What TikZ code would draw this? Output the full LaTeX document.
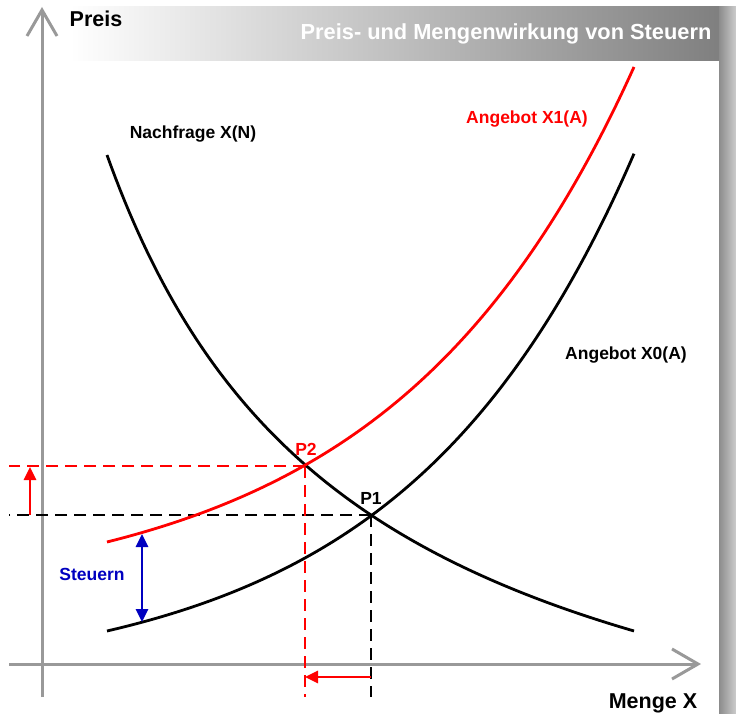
\documentclass[tikz,border=0pt]{standalone}
\usepackage{fontspec}
\setmainfont{Liberation Sans}
\usetikzlibrary{arrows.meta}
\definecolor{axisgray}{RGB}{153,153,153}
\definecolor{taxblue}{RGB}{0,0,192}
\begin{document}
\begin{tikzpicture}[x=1pt,y=-1pt,
  lbl/.style={font=\fontsize{17.5}{20}\selectfont\bfseries, inner sep=0pt},
  axlbl/.style={font=\fontsize{21.5}{24}\selectfont\bfseries, inner sep=0pt},
  ttl/.style={font=\fontsize{21.8}{24}\selectfont\bfseries, inner sep=0pt, text=white},
  axisline/.style={draw=axisgray, line width=3pt, -{Straight Barb[length=26pt,width=30pt]}},
  curve/.style={line width=2.8pt},
  dashline/.style={line width=2.8pt, dash pattern=on 12pt off 7pt},
  shiftarrow/.style={line width=2.8pt, -{Triangle[length=13pt,width=12pt]}},
  taxarrow/.style={line width=2.8pt, draw=taxblue, {Triangle[length=13pt,width=12pt]}-{Triangle[length=13pt,width=12pt]}}
]
\useasboundingbox (0,0) rectangle (736,714);
\fill[white] (0,0) rectangle (736,714);
% header band and right shadow band
\shade[left color=white, right color=black!50] (70,7) rectangle (719,61);
\shade[left color=black!45, right color=black!20] (719,7) rectangle (736,714);
\node[ttl] (title) at (506,34) {Preis- und Mengenwirkung von Steuern};
% axes
\coordinate (ybot) at (42,697);
\coordinate (ytop) at (42,7);
\coordinate (xl) at (9,664);
\coordinate (xr) at (701,664);
\draw[axisline] (ybot) -- (ytop);
\draw[axisline] (xl) -- (xr);
\node[axlbl] (preis) at (96,19) {Preis};
\node[axlbl] (menge) at (653,703) {Menge X};
% key points
\coordinate (P1) at (371,515);
\coordinate (P2) at (305,466);
\coordinate (h1) at (9,515);
\coordinate (v1) at (371,697);
\coordinate (h2) at (9,466);
\coordinate (v2) at (305,697);
% dashed guides
\draw[dashline] (P1) -- (h1);
\draw[dashline] (P1) -- (v1);
\draw[dashline, red] (P2) -- (h2);
\draw[dashline, red] (P2) -- (v2);
% curves
\draw[curve] plot[domain=107:634, samples=120] (\x, {858.5-1772.11/((\x+144.9)/100)});
\draw[curve] plot[domain=107:634, samples=120] (\x, {631-53.2*(exp(0.004358*(\x-107))-1)});
\draw[curve, red] plot[domain=107:634, samples=120] (\x, {542-60.6*(exp(0.00414*(\x-107))-1)});
% arrows
\coordinate (pa0) at (30,515);
\coordinate (pa1) at (30,467);
\coordinate (ma0) at (371,677);
\coordinate (ma1) at (305,677);
\coordinate (ta0) at (142,534);
\coordinate (ta1) at (142,622);
\draw[shiftarrow, red] (pa0) -- (pa1);
\draw[shiftarrow, red] (ma0) -- (ma1);
\draw[taxarrow] (ta0) -- (ta1);
% labels
\node[lbl, text=taxblue] (steuern) at (92,574) {Steuern};
\node[lbl, text=red] (p2l) at (306,449) {P2};
\node[lbl] (p1l) at (371,498) {P1};
\node[lbl] (nachfrage) at (193,134) {Nachfrage X(N)};
\node[lbl, text=red] (ang1) at (527,119) {Angebot X1(A)};
\node[lbl] (ang0) at (626,355) {Angebot X0(A)};
\end{tikzpicture}
\end{document}
